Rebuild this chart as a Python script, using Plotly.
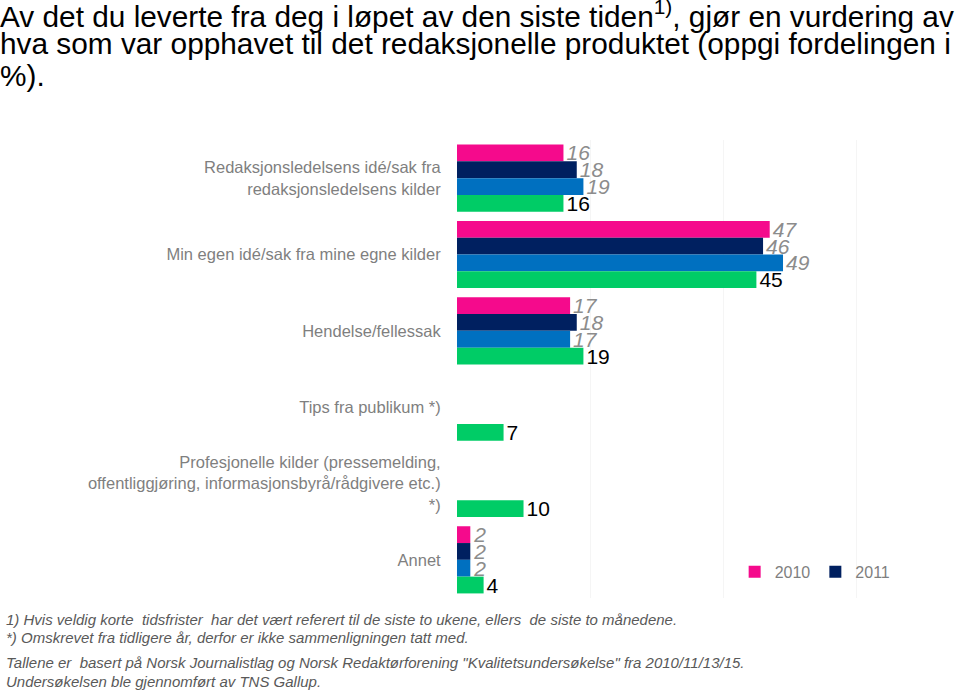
import plotly.graph_objects as go

categories = [
    "Redaksjonsledelsens idé/sak fra<br>redaksjonsledelsens kilder",
    "Min egen idé/sak fra mine egne kilder",
    "Hendelse/fellessak",
    "Tips fra publikum *)",
    "Profesjonelle kilder (pressemelding,<br>offentliggjøring, informasjonsbyrå/rådgivere etc.)<br>*)",
    "Annet",
]
series_names = ["2010", "2011", "2013", "2015"]
v2010 = [16, 47, 17, None, None, 2]
v2011 = [18, 46, 18, None, None, 2]
v2013 = [19, 49, 17, None, None, 2]
v2015 = [16, 45, 19, 7, 10, 4]
colors = ["#f50a8c", "#002060", "#0070c0", "#00cc66"]

FONT = "Liberation Sans, Arial, sans-serif"

fig = go.Figure()
for i, (name, vals) in enumerate(zip(series_names, [v2010, v2011, v2013, v2015])):
    last = i == 3
    fig.add_trace(go.Bar(
        y=list(range(len(categories))), x=vals, name=name, orientation="h",
        marker=dict(color=colors[i], line=dict(width=0)),
        text=[("" if v is None else str(v)) for v in vals],
        textposition="outside", constraintext="none", cliponaxis=False,
        textfont=dict(family=FONT, size=21,
                      color="#000000" if last else "#8c8c8c",
                      style="normal" if last else "italic"),
        showlegend=(i < 2),
    ))

fig.update_layout(
    width=960, height=690,
    paper_bgcolor="white", plot_bgcolor="white",
    barmode="group", bargap=0.12, bargroupgap=0,
    margin=dict(l=457, r=0, t=140, b=92),
    font=dict(family=FONT, color="#7f7f7f"),
    xaxis=dict(range=[0, 75.6], showticklabels=False, showgrid=True,
               gridcolor="#f5f5f5", gridwidth=1, dtick=20, zeroline=False,
               showline=False),
    yaxis=dict(autorange="reversed", tickmode="array",
               tickvals=list(range(len(categories))), ticktext=categories,
               tickfont=dict(size=16.5, color="#7f7f7f", family=FONT),
               ticks="outside", ticklen=12, tickcolor="rgba(0,0,0,0)",
               showgrid=False, zeroline=False, showline=False),
    legend=dict(orientation="h", x=0.552, y=0.057, xanchor="left", yanchor="middle",
                font=dict(size=16, color="#7f7f7f"), bgcolor="rgba(0,0,0,0)",
                itemwidth=30, traceorder="normal"),
    showlegend=True,
)

title_lines = [
    ("Av det du leverte fra deg i løpet av den siste tiden<sup>1)</sup>, gjør en vurdering av", 14),
    ("hva som var opphavet til det redaksjonelle produktet (oppgi fordelingen i", 44),
    ("%).", 76),
]
for line, ypx in title_lines:
    fig.add_annotation(text=line, xref="paper", yref="paper", x=-459/503, y=(598 - ypx)/458,
                       xanchor="left", yanchor="middle", showarrow=False,
                       font=dict(family=FONT, size=29.8, color="#000000"))

notes = [
    ("1) Hvis veldig korte  tidsfrister  har det vært referert til de siste to ukene, ellers  de siste to månedene.", 619),
    ("*) Omskrevet fra tidligere år, derfor er ikke sammenligningen tatt med.", 637),
    ("Tallene er  basert på Norsk Journalistlag og Norsk Redaktørforening \"Kvalitetsundersøkelse\" fra 2010/11/13/15.", 662),
    ("Undersøkelsen ble gjennomført av TNS Gallup.", 681),
]
for text, ypx in notes:
    fig.add_annotation(text=text, xref="paper", yref="paper", x=-453/503, y=(598 - ypx)/458,
                       xanchor="left", yanchor="middle", showarrow=False,
                       font=dict(family=FONT, size=15, color="#595959", style="italic"))

fig.write_html("out.html", config={"displayModeBar": False},
               post_script="document.body.style.margin='0px';document.body.style.overflow='hidden';")
